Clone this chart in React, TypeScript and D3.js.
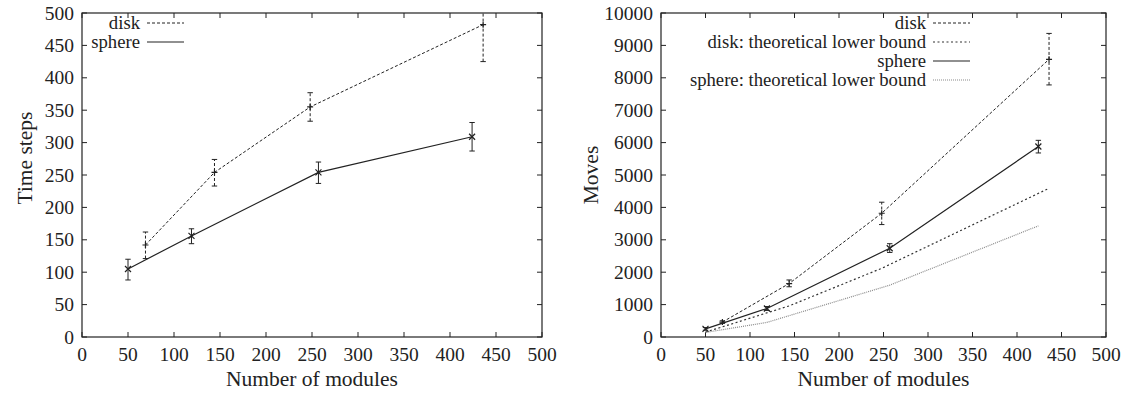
import React, {useEffect, useRef} from 'react';
import * as d3 from 'd3';

// number of modules on the x axis, shared by both panels
const moduleTicks = [0, 50, 100, 150, 200, 250, 300, 350, 400, 450, 500];
const timeTicks = [0, 50, 100, 150, 200, 250, 300, 350, 400, 450, 500];
const moveTicks = [0, 1000, 2000, 3000, 4000, 5000, 6000, 7000, 8000, 9000, 10000];

const diskModules = [69, 144, 248, 436];
const sphereModules = [50, 119, 257, 424];

// left panel: time steps
const diskTime = [142, 254, 355, 482];
const diskTimeLow = [121, 233, 333, 425];
const diskTimeHigh = [162, 274, 377, 539];
const sphereTime = [105, 156, 254, 309];
const sphereTimeLow = [88, 144, 237, 287];
const sphereTimeHigh = [120, 167, 270, 331];

// right panel: moves
const diskMoves = [460, 1650, 3820, 8570];
const diskMovesLow = [420, 1550, 3470, 7780];
const diskMovesHigh = [500, 1760, 4160, 9370];
const sphereMoves = [250, 880, 2740, 5880];
const sphereMovesLow = [210, 820, 2610, 5680];
const sphereMovesHigh = [290, 940, 2880, 6070];
const diskBoundModules = [50, 144, 248, 436];
const diskBound = [150, 960, 2120, 4590];
const sphereBound = [140, 450, 1600, 3430];

const FONT = '"Liberation Serif", "Times New Roman", serif';

function App() {
    const svgRef = useRef();

    useEffect(() => {
        const svg = d3.select(svgRef.current);
        svg.selectAll('*').remove();

        const drawPanel = (cfg) => {
            const {left, right, top, bottom, yMax, yTicks, yTitle, yTitleX, yTitleY, series, legend, clipId} = cfg;

            const x = d3.scaleLinear().domain([0, 500]).range([left, right]);
            const y = d3.scaleLinear().domain([0, yMax]).range([bottom, top]);

            svg.append('clipPath')
                .attr('id', clipId)
                .append('rect')
                .attr('x', left).attr('y', top)
                .attr('width', right - left).attr('height', bottom - top);

            const g = svg.append('g');

            // frame
            g.append('rect')
                .attr('x', left).attr('y', top)
                .attr('width', right - left).attr('height', bottom - top)
                .attr('fill', 'none').attr('stroke', '#222').attr('stroke-width', 1.2);

            // inward ticks on all sides (gnuplot style)
            const tickLen = 5;
            g.append('g').selectAll('line.xb').data(moduleTicks).join('line')
                .attr('x1', d => x(d)).attr('x2', d => x(d))
                .attr('y1', bottom).attr('y2', bottom - tickLen)
                .attr('stroke', '#222');
            g.append('g').selectAll('line.xt').data(moduleTicks).join('line')
                .attr('x1', d => x(d)).attr('x2', d => x(d))
                .attr('y1', top).attr('y2', top + tickLen)
                .attr('stroke', '#222');
            g.append('g').selectAll('line.yl').data(yTicks).join('line')
                .attr('x1', left).attr('x2', left + tickLen)
                .attr('y1', d => y(d)).attr('y2', d => y(d))
                .attr('stroke', '#222');
            g.append('g').selectAll('line.yr').data(yTicks).join('line')
                .attr('x1', right).attr('x2', right - tickLen)
                .attr('y1', d => y(d)).attr('y2', d => y(d))
                .attr('stroke', '#222');

            // tick labels
            g.append('g').selectAll('text').data(moduleTicks).join('text')
                .attr('x', d => x(d)).attr('y', bottom + 24)
                .attr('text-anchor', 'middle')
                .style('font-family', FONT).style('font-size', '19.5px')
                .attr('fill', '#222')
                .text(d => d);
            g.append('g').selectAll('text').data(yTicks).join('text')
                .attr('x', left - 8).attr('y', d => y(d) + 6.5)
                .attr('text-anchor', 'end')
                .style('font-family', FONT).style('font-size', '19.5px')
                .attr('fill', '#222')
                .text(d => d);

            // axis titles
            g.append('text')
                .attr('x', (left + right) / 2).attr('y', bottom + 49)
                .attr('text-anchor', 'middle')
                .style('font-family', FONT).style('font-size', '21.5px')
                .attr('fill', '#222')
                .text('Number of modules');
            g.append('text')
                .attr('transform', `translate(${yTitleX}, ${yTitleY}) rotate(-90)`)
                .attr('text-anchor', 'middle')
                .style('font-family', FONT).style('font-size', '21.5px')
                .attr('fill', '#222')
                .text(yTitle);

            const plot = g.append('g').attr('clip-path', `url(#${clipId})`);
            const line = d3.line().x(d => x(d[0])).y(d => y(d[1]));

            series.forEach(s => {
                const pts = s.xs.map((v, i) => [v, s.ys[i]]);
                plot.append('path')
                    .attr('d', line(pts))
                    .attr('fill', 'none')
                    .attr('stroke', s.color)
                    .attr('stroke-width', s.width)
                    .attr('stroke-dasharray', s.dash);

                if (s.low) {
                    s.xs.forEach((v, i) => {
                        const cx = x(v);
                        const y0 = y(s.low[i]);
                        const y1 = y(s.high[i]);
                        plot.append('line')
                            .attr('x1', cx).attr('x2', cx).attr('y1', y0).attr('y2', y1)
                            .attr('stroke', s.color).attr('stroke-width', 1)
                            .attr('stroke-dasharray', s.dash);
                        [y0, y1].forEach(yy => {
                            plot.append('line')
                                .attr('x1', cx - 2.7).attr('x2', cx + 2.7)
                                .attr('y1', yy).attr('y2', yy)
                                .attr('stroke', s.color).attr('stroke-width', 1);
                        });
                        const cy = y(s.ys[i]);
                        const r = 3;
                        if (s.marker === 'x') {
                            plot.append('path')
                                .attr('d', `M${cx - r},${cy - r}L${cx + r},${cy + r}M${cx - r},${cy + r}L${cx + r},${cy - r}`)
                                .attr('stroke', s.color).attr('stroke-width', 1.2);
                        } else {
                            plot.append('path')
                                .attr('d', `M${cx - r},${cy}L${cx + r},${cy}M${cx},${cy - r}L${cx},${cy + r}`)
                                .attr('stroke', s.color).attr('stroke-width', 1.2);
                        }
                    });
                }
            });

            // legend
            legend.forEach((item, i) => {
                const ly = top + 10 + i * 19;
                g.append('text')
                    .attr('x', item.textX).attr('y', ly + 6)
                    .attr('text-anchor', 'end')
                    .style('font-family', FONT).style('font-size', '18.7px')
                    .attr('fill', '#222')
                    .text(item.label);
                g.append('line')
                    .attr('x1', item.textX + 7).attr('x2', item.textX + 44)
                    .attr('y1', ly).attr('y2', ly)
                    .attr('stroke', item.s.color)
                    .attr('stroke-width', item.s.width)
                    .attr('stroke-dasharray', item.s.dash);
            });
        };

        const diskStyle = {color: '#222', width: 1, dash: '3,2', marker: '+'};
        const sphereStyle = {color: '#222', width: 1.2, dash: null, marker: 'x'};
        const diskBoundStyle = {color: '#333', width: 1.2, dash: '2,2.5'};
        const sphereBoundStyle = {color: '#8a8a8a', width: 1.2, dash: '1,1'};

        const diskT = {...diskStyle, xs: diskModules, ys: diskTime, low: diskTimeLow, high: diskTimeHigh};
        const sphereT = {...sphereStyle, xs: sphereModules, ys: sphereTime, low: sphereTimeLow, high: sphereTimeHigh};

        drawPanel({
            left: 82, right: 542, top: 13, bottom: 337,
            yMax: 500, yTicks: timeTicks,
            yTitle: 'Time steps', yTitleX: 32, yTitleY: 158,
            clipId: 'clip-left',
            series: [diskT, sphereT],
            legend: [
                {label: 'disk', s: diskStyle, textX: 140},
                {label: 'sphere', s: sphereStyle, textX: 140},
            ],
        });

        const diskM = {...diskStyle, xs: diskModules, ys: diskMoves, low: diskMovesLow, high: diskMovesHigh};
        const sphereM = {...sphereStyle, xs: sphereModules, ys: sphereMoves, low: sphereMovesLow, high: sphereMovesHigh};
        const diskB = {...diskBoundStyle, xs: diskBoundModules, ys: diskBound};
        const sphereB = {...sphereBoundStyle, xs: sphereModules, ys: sphereBound};

        drawPanel({
            left: 661, right: 1106, top: 13, bottom: 337,
            yMax: 10000, yTicks: moveTicks,
            yTitle: 'Moves', yTitleX: 598, yTitleY: 175,
            clipId: 'clip-right',
            series: [diskB, sphereB, diskM, sphereM],
            legend: [
                {label: 'disk', s: diskStyle, textX: 926},
                {label: 'disk: theoretical lower bound', s: diskBoundStyle, textX: 926},
                {label: 'sphere', s: sphereStyle, textX: 926},
                {label: 'sphere: theoretical lower bound', s: sphereBoundStyle, textX: 926},
            ],
        });
    }, []);

    return (
        <svg
            ref={svgRef}
            width={1126}
            height={393}
            style={{position: 'absolute', left: 0, top: 0, background: '#fff'}}
        />
    );
}

export default App;
